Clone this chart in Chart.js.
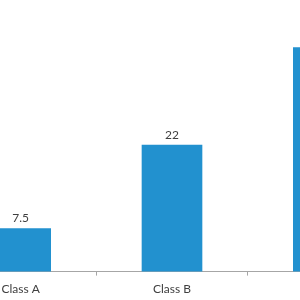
<!DOCTYPE html>
<html>
<head>
<meta charset="utf-8">
<script src="https://cdn.jsdelivr.net/npm/chart.js@4"></script>
<style>
  html, body { margin: 0; padding: 0; background: #fff; overflow: hidden; }
  #wrap { position: absolute; left: -55px; top: 0; width: 454px; height: 307px; }
</style>
</head>
<body>
<div id="wrap"><canvas id="barChart"></canvas></div>
<script>
const categories = ['Class A', 'Class B', 'Class C'];
const values = [7.5, 22, 39];

// draws the number above each bar
const valueLabels = {
    id: 'valueLabels',
    afterDatasetsDraw(chart) {
        const ctx = chart.ctx;
        ctx.save();
        ctx.font = '12px Lato';
        ctx.fillStyle = '#404040';
        ctx.textAlign = 'center';
        ctx.textBaseline = 'bottom';
        chart.getDatasetMeta(0).data.forEach((bar, i) => {
            ctx.fillText(String(values[i]), bar.x, bar.y - 4);
        });
        ctx.restore();
    }
};

document.addEventListener("DOMContentLoaded", function () {
    const ctx = document.getElementById('barChart');
    new Chart(ctx.getContext('2d'), {
        type: 'bar',
        data: {
            labels: categories,
            datasets: [{
                data: values,
                backgroundColor: '#2291cf',
                barThickness: 60
            }]
        },
        options: {
            responsive: true,
            maintainAspectRatio: false,
            animation: false,
            layout: { padding: { top: 13, bottom: 5 } },
            plugins: { legend: { display: false }, tooltip: { enabled: false } },
            scales: {
                x: {
                    grid: { drawOnChartArea: false, tickLength: 4, color: '#a6a6a6', offset: true },
                    border: { color: '#a6a6a6' },
                    ticks: { font: { family: 'Lato', size: 12 }, color: '#404040', padding: 6 }
                },
                y: { display: false, min: 0, max: 45 }
            }
        },
        plugins: [valueLabels]
    });
});
</script>
</body>
</html>
